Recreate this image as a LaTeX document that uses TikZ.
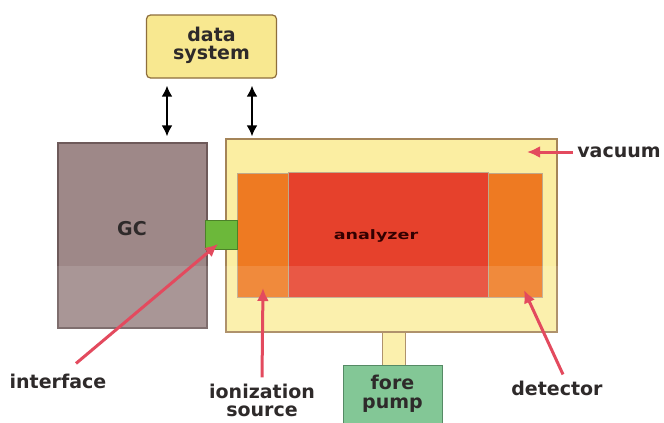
\documentclass[tikz,border=0pt]{standalone}
\usepackage{fontspec}
\setmainfont{DejaVu Sans}
\usetikzlibrary{arrows.meta,calc}
\definecolor{dsfill}{HTML}{F8E890}
\definecolor{dsdraw}{HTML}{8E6E3C}
\definecolor{gcfill}{HTML}{9E8888}
\definecolor{gcdraw}{HTML}{6E5A5A}
\definecolor{vacfill}{HTML}{FBEEA2}
\definecolor{vacdraw}{HTML}{A48458}
\definecolor{orangec}{HTML}{EE7A22}
\definecolor{redc}{HTML}{E6412C}
\definecolor{greenc}{HTML}{6CB83A}
\definecolor{pumpfill}{HTML}{72C088}
\definecolor{pumpdraw}{HTML}{3E7A50}
\definecolor{pointc}{HTML}{E34A5E}
\definecolor{txt}{HTML}{2E2A2A}
\tikzset{
  lbl/.style={font=\fontsize{19}{21}\selectfont\bfseries, text=txt, align=center, inner sep=0pt},
  box/.style={rectangle, inner sep=0pt, line width=1.2pt},
  biarrow/.style={line width=2.4pt, black, {Latex[length=11pt,width=11pt]}-{Latex[length=11pt,width=11pt]}},
  pointer/.style={line width=3pt, pointc, -{Latex[length=13pt,width=12pt]}}
}
\begin{document}
\begin{tikzpicture}[x=1pt,y=-1pt]
\useasboundingbox (0,0) rectangle (664,423);
\fill[white] (0,0) rectangle (664,423);
% data system
\node[box, draw=dsdraw, fill=dsfill, rounded corners=4pt, minimum width=130pt, minimum height=63pt] (data) at (211.5,46.5) {};
% GC
\node[box, draw=gcdraw, fill=gcfill, minimum width=149pt, minimum height=185pt] (gc) at (132.5,235.5) {};
% vacuum chamber
\node[box, draw=vacdraw, fill=vacfill, minimum width=331pt, minimum height=193pt] (vac) at (391.5,235.5) {};
\node[box, draw=vacdraw!70, line width=0.6pt, fill=orangec, minimum width=51pt, minimum height=124pt] (ion) at (262.5,235) {};
\node[box, draw=vacdraw!70, line width=0.6pt, fill=redc, minimum width=200pt, minimum height=125pt] (ana) at (388,234.5) {};
\node[box, draw=vacdraw!70, line width=0.6pt, fill=orangec, minimum width=54pt, minimum height=124pt] (det) at (515,235) {};
% interface
\node[box, draw=greenc!70!black, line width=0.6pt, fill=greenc, minimum width=32pt, minimum height=29pt] (intf) at (221,234.5) {};
% fore pump
\node[box, draw=vacdraw, line width=1pt, fill=vacfill, minimum width=23pt, minimum height=33pt] (stub) at (393.5,348.5) {};
\node[box, draw=pumpdraw, line width=1pt, fill=pumpfill, minimum width=99pt, minimum height=60pt, anchor=north] (pump) at (392.5,365) {};
% lighter lower band (scan)
\fill[white, opacity=0.12] (0,266) rectangle (664,423);
% texts inside boxes
\node[lbl] (datat) at (211.5,45) {data\\[-3pt]system};
\node[lbl] (gct) at (132,229) {GC};
\node[font=\fontsize{13}{15}\selectfont\bfseries, text=black!80!red, xscale=1.35, inner sep=0pt] (anat) at (376,236) {analyzer};
\node[lbl] (pumpt) at (392.5,394) {fore\\[-2pt]pump};
% data arrows
\coordinate (ax1) at (167,0);
\coordinate (ax2) at (252,0);
\draw[biarrow] ([yshift=-7pt]data.south -| ax1) -- ([yshift=6pt]gc.north -| ax1);
\draw[biarrow] ([yshift=-7pt]data.south -| ax2) -- ([yshift=2pt]vac.north -| ax2);
% labels
\node[lbl] (vact) at (619,152) {vacuum};
\node[lbl] (intt) at (58,381) {interface};
\node[lbl] (iont) at (262,400) {ionization\\[-3pt]source};
\node[lbl] (dett) at (557,388) {detector};
\coordinate (vacp) at (527,152);
\coordinate (intp) at (218,244);
\coordinate (ionp) at (263,288);
\coordinate (detp) at (524,290);
\draw[pointer] ([xshift=-4pt]vact.west) -- (vacp);
\draw[pointer] ([xshift=18pt,yshift=10pt]intt.north) -- (intp);
\draw[pointer] ([yshift=6pt]iont.north) -- (ionp);
\draw[pointer] ([xshift=6pt,yshift=6pt]dett.north) -- (detp);
\end{tikzpicture}
\end{document}
